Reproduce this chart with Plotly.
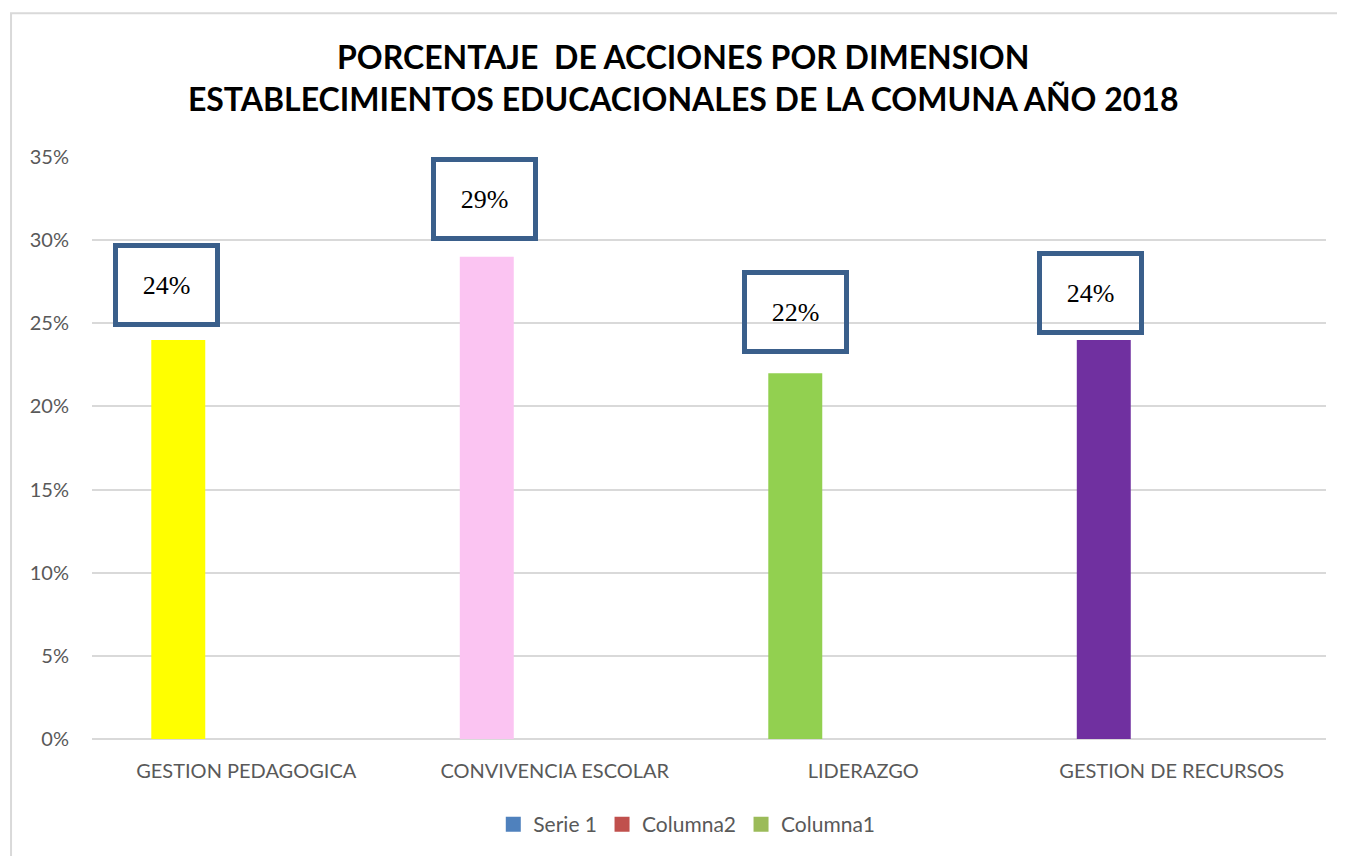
import plotly.graph_objects as go

# ── data ────────────────────────────────────────────────────────────────
categories = ["GESTION PEDAGOGICA", "CONVIVENCIA ESCOLAR", "LIDERAZGO", "GESTION DE RECURSOS"]
serie1 = [0.24, 0.29, 0.22, 0.24]
columna2 = [None, None, None, None]
columna1 = [None, None, None, None]
series_names = ["Serie 1", "Columna2", "Columna1"]
series_colors = ["#4F81BD", "#C0504D", "#9BBB59"]
point_colors = ["#FFFF00", "#FBC4F2", "#92D050", "#7030A0"]
y_ticks = [0, 0.05, 0.10, 0.15, 0.20, 0.25, 0.30, 0.35]

FONT = "Lato"
GREY = "#595959"
GRID = "#D9D9D9"
BOX = "#3A5F8B"

fig = go.Figure()

# bars (grouped like the original sheet: three series, only Serie 1 filled)
fig.add_trace(go.Bar(x=categories, y=serie1, name=series_names[0],
                     marker=dict(color=point_colors, line=dict(width=0)),
                     showlegend=False))
fig.add_trace(go.Bar(x=categories, y=columna2, name=series_names[1],
                     marker=dict(color=series_colors[1]), showlegend=False))
fig.add_trace(go.Bar(x=categories, y=columna1, name=series_names[2],
                     marker=dict(color=series_colors[2]), showlegend=False))

# legend entries with the series' own colours
for name, col in zip(series_names, series_colors):
    fig.add_trace(go.Scatter(x=[None], y=[None], name=name, mode="markers",
                             marker=dict(symbol="square", size=15, color=col)))

# boxed data labels, nudged like the hand-placed ones in the original
nudges = [(-80, 55), (-70, 58), (-68, 61), (-81, 47)]
for cat, val, (dx, dy) in zip(categories, serie1, nudges):
    fig.add_annotation(
        x=cat, y=val, xref="x", yref="y",
        text=f"{val:.0%}", showarrow=False,
        xshift=dx, yshift=dy,
        width=97, height=74,
        bordercolor=BOX, borderwidth=5, borderpad=0,
        font=dict(family="Liberation Serif", size=26, color="black"),
    )

# outer chart frame
fig.add_shape(type="rect", xref="paper", yref="paper",
              x0=-0.0656, x1=1.2, y0=-0.4, y1=1.247,
              line=dict(color=GRID, width=2), fillcolor="rgba(0,0,0,0)", layer="below")

fig.update_layout(
    width=1337, height=848, autosize=False,
    margin=dict(l=84, r=19, t=149, b=116),
    paper_bgcolor="white", plot_bgcolor="white",
    barmode="group", bargap=0.339, bargroupgap=0.206,
    title=dict(
        text="<b>PORCENTAJE\u00a0 DE ACCIONES POR DIMENSION<br>"
             "ESTABLECIMIENTOS EDUCACIONALES DE LA COMUNA AÑO 2018</b>",
        x=0.505, xanchor="center", y=0.928, yanchor="top",
        font=dict(family=FONT, size=32, color="black"),
    ),
    legend=dict(orientation="h", x=0.482, xanchor="center", y=-0.11, yanchor="top",
                font=dict(family=FONT, size=21, color=GREY),
                bgcolor="rgba(0,0,0,0)", itemwidth=30, tracegroupgap=0),
    font=dict(family=FONT, color=GREY),
)

fig.update_xaxes(showgrid=False, showline=False, zeroline=False, ticks="",
                 tickfont=dict(family=FONT, size=20, color=GREY),
                 ticklabelstandoff=18)
fig.update_yaxes(range=[0, 0.35], tickvals=y_ticks, tickformat=".0%",
                 showgrid=True, gridcolor=GRID, gridwidth=1.5,
                 zeroline=True, zerolinecolor=GRID, zerolinewidth=1.5,
                 showline=False, ticks="",
                 tickfont=dict(family=FONT, size=20, color=GREY),
                 ticklabelstandoff=22)

fig.write_html("out.html")
